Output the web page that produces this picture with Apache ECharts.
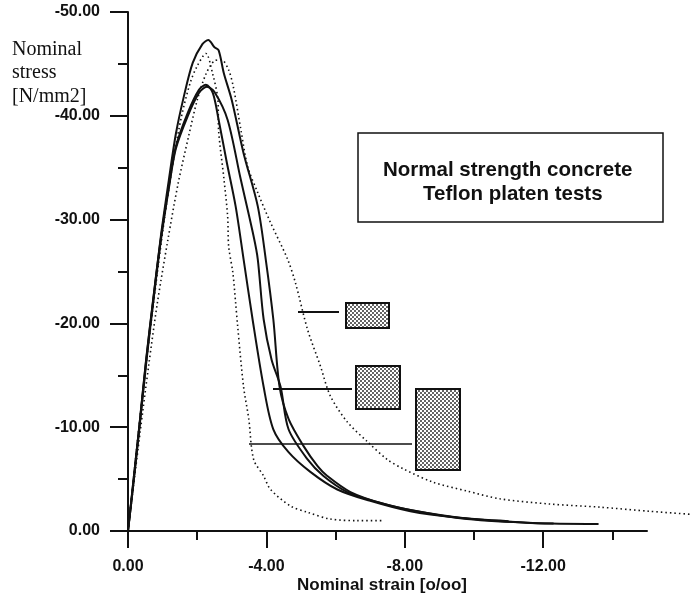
<!DOCTYPE html>
<html>
<head>
<meta charset="utf-8">
<script src="https://cdn.jsdelivr.net/npm/echarts@6/dist/echarts.min.js"></script>
<style>html,body{margin:0;padding:0;background:#fff}#c{width:696px;height:598px}</style>
</head>
<body>
<div id="c"></div>
<script>
// ---- data (strain [o/oo], stress [N/mm2]) ----
const xMajorTicks = [0, -4, -8, -12];
const xMinorTicks = [-2, -6, -10, -14];
const yTicks = [0, -10, -20, -30, -40, -50];

const solidA = [[0,0],[-0.1,-3.0],[-0.32,-9.8],[-0.52,-16.3],[-0.72,-22],[-0.95,-28.4],[-1.18,-33.8],[-1.38,-38.2],[-1.61,-41.8],[-1.87,-45.1],[-2.15,-46.9],[-2.32,-47.3],[-2.5,-46.6],[-2.62,-46.3],[-2.77,-44.1],[-3.0,-41.5],[-3.34,-36.4],[-3.75,-31.3],[-3.98,-26.2],[-4.2,-20.4],[-4.38,-13.9],[-4.64,-10.8],[-5.07,-8.2],[-5.48,-6.25],[-5.76,-5.3],[-6.43,-3.75],[-7.4,-2.6],[-8.5,-1.8],[-9.8,-1.15],[-11.7,-0.77],[-13.6,-0.67]];
const solidB = [[0,0],[-0.1,-3.1],[-0.32,-9.9],[-0.52,-16.4],[-0.72,-22.1],[-0.95,-28.2],[-1.18,-33.2],[-1.38,-37.0],[-1.73,-40.3],[-2.05,-42.5],[-2.25,-43.0],[-2.45,-42.2],[-2.62,-39.6],[-2.85,-35.6],[-3.11,-31.3],[-3.34,-26.2],[-3.6,-20.4],[-3.92,-13.9],[-4.2,-9.8],[-4.64,-7.6],[-5.27,-5.7],[-6.05,-4.0],[-7.0,-2.9],[-8.16,-1.9],[-9.5,-1.3],[-11.0,-0.95]];
const solidC = [[0,0],[-0.1,-2.9],[-0.32,-9.6],[-0.52,-16.0],[-0.72,-21.8],[-0.95,-28.0],[-1.18,-33.0],[-1.38,-36.8],[-1.73,-40.0],[-2.05,-42.2],[-2.28,-42.8],[-2.5,-42.3],[-2.88,-39.6],[-3.25,-34.0],[-3.63,-28.4],[-3.75,-26.2],[-3.92,-20.4],[-4.15,-16.5],[-4.41,-13.9],[-4.64,-9.8],[-5.19,-6.9],[-5.65,-5.3],[-6.34,-3.75],[-7.2,-2.8],[-8.2,-2.0],[-9.8,-1.2],[-11.5,-0.8],[-12.3,-0.72]];
const dottedLong = [[0,0],[-0.35,-9.5],[-0.6,-16],[-0.85,-22],[-1.15,-28],[-1.45,-33.5],[-1.75,-38],[-2.0,-41.5],[-2.25,-44.0],[-2.5,-45.3],[-2.7,-45.4],[-2.91,-44.4],[-3.05,-42.7],[-3.26,-38.7],[-3.46,-35.1],[-3.75,-32.6],[-4.12,-29.7],[-4.61,-26.2],[-4.84,-23.9],[-5.19,-19.4],[-5.56,-15.9],[-5.85,-13.0],[-6.34,-10.5],[-6.92,-8.6],[-7.49,-6.9],[-7.95,-6.0],[-8.82,-4.7],[-9.8,-3.85],[-10.75,-3.1],[-12.19,-2.6],[-13.63,-2.3],[-15.07,-1.9],[-16.3,-1.6]];
const dottedSteep = [[0,0],[-0.3,-9.5],[-0.55,-16.8],[-0.8,-23.6],[-1.05,-30.0],[-1.3,-35.5],[-1.55,-40.0],[-1.8,-43.2],[-2.0,-44.8],[-2.25,-46.0],[-2.45,-44.0],[-2.6,-41.5],[-2.62,-38.5],[-2.77,-34.0],[-2.88,-30.3],[-2.91,-27.4],[-3.03,-24.9],[-3.11,-22],[-3.17,-19.7],[-3.34,-13.9],[-3.49,-10.8],[-3.63,-6.9],[-3.92,-5.3],[-4.12,-4.0],[-4.7,-2.4],[-5.19,-1.8],[-5.85,-1.15],[-6.63,-1.0],[-7.38,-1.0]];

const yNameLines = ['Nominal', 'stress', '[N/mm2]'];
const xName = 'Nominal strain [o/oo]';
const boxLine1 = 'Normal strength concrete';
const boxLine2 = 'Teflon platen tests';

// layout
const GL = 128, GT = 12, GR = 49, GB = 67, W = 696;
const plotW = W - GL - GR;            // px spanning 0 .. -15
const xMin = -15;
const xMinWide = xMin * (W - GL) / plotW; // same scale, reaching the right edge

// stipple pattern
const pc = document.createElement('canvas');
pc.width = 4; pc.height = 4;
const pctx = pc.getContext('2d');
pctx.fillStyle = '#fff'; pctx.fillRect(0,0,4,4);
pctx.fillStyle = '#222';
pctx.beginPath(); pctx.arc(1,1,0.95,0,Math.PI*2); pctx.fill();
pctx.beginPath(); pctx.arc(3,3,0.95,0,Math.PI*2); pctx.fill();
const stipple = {image: pc, repeat: 'repeat'};

const ink = '#111';
const labelFont = 'Liberation Sans';

function solid(data){
  return {type:'line', data, showSymbol:false, smooth:0.3, lineStyle:{color:ink, width:2}, animation:false, silent:true};
}
function dotted(data, gi){
  return {type:'line', data, xAxisIndex:gi===1?2:0, yAxisIndex:gi===1?1:0, showSymbol:false, smooth:0.3, clip:false,
    lineStyle:{color:ink, width:1.6, type:[1.5,3]}, animation:false, silent:true};
}

const chart = echarts.init(document.getElementById('c'), null, {renderer:'canvas'});
const txt = (x, y, text, font, align) => ({type:'text', x, y, silent:true,
  style:{text, font, fill:ink, align: align||'left', verticalAlign:'middle', textAlign: align||'left', textVerticalAlign:'middle'}});
const rect = (x,y,w,h) => ({type:'rect', silent:true, shape:{x,y,width:w,height:h}, style:{fill:stipple, stroke:ink, lineWidth:2}});
const hline = (x1,x2,y,w) => ({type:'line', silent:true, shape:{x1,y1:y,x2,y2:y}, style:{stroke:ink, lineWidth:w}});

chart.setOption({
  animation:false,
  backgroundColor:'#fff',
  grid:[
    {left:GL, top:GT, right:GR, bottom:GB, containLabel:false},
    {left:GL, top:GT, right:0, bottom:GB, containLabel:false}
  ],
  xAxis:[{
    type:'value', inverse:true, min:xMin, max:0, gridIndex:0, position:'bottom',
    axisLine:{show:true, onZero:false, lineStyle:{color:ink, width:2}},
    axisTick:{show:true, length:17, customValues:xMajorTicks, lineStyle:{color:ink, width:2}},
    axisLabel:{show:true, customValues:xMajorTicks, margin:28, color:ink, fontFamily:labelFont, fontSize:16, fontWeight:'bold', formatter:v=>v.toFixed(2)},
    splitLine:{show:false}
  },{
    type:'value', inverse:true, min:xMin, max:0, gridIndex:0, position:'bottom',
    axisLine:{show:false},
    axisTick:{show:true, length:9, customValues:xMinorTicks, lineStyle:{color:ink, width:2}},
    axisLabel:{show:false},
    splitLine:{show:false}
  },{
    type:'value', inverse:true, min:xMinWide, max:0, gridIndex:1, show:false
  }],
  yAxis:[{
    type:'value', inverse:true, min:-50, max:0, interval:10, gridIndex:0,
    axisLine:{show:true, onZero:false, lineStyle:{color:ink, width:2}},
    axisTick:{show:true, length:18, lineStyle:{color:ink, width:2}},
    minorTick:{show:true, splitNumber:2, length:10, lineStyle:{color:ink, width:2}},
    axisLabel:{margin:28, color:ink, fontFamily:labelFont, fontSize:16, fontWeight:'bold', formatter:v=>v.toFixed(2)},
    splitLine:{show:false}, minorSplitLine:{show:false}
  },{
    type:'value', inverse:true, min:-50, max:0, gridIndex:1, show:false
  }],
  series:[
    dotted(dottedSteep, 0),
    dotted(dottedLong, 1),
    solid(solidB),
    solid(solidC),
    solid(solidA)
  ],
  graphic:[
    txt(12, 50, yNameLines[0], '20px "Liberation Serif"'),
    txt(12, 73, yNameLines[1], '20px "Liberation Serif"'),
    txt(12, 97, yNameLines[2], '20px "Liberation Serif"'),
    txt(382, 585, xName, 'bold 17px "Liberation Sans"', 'center'),
    {type:'rect', silent:true, shape:{x:358,y:133,width:305,height:89}, style:{fill:'#fff', stroke:ink, lineWidth:1.5}},
    txt(383, 170, boxLine1, 'bold 20.5px "Liberation Sans"'),
    txt(423, 194, boxLine2, 'bold 20.5px "Liberation Sans"'),
    hline(298, 339, 312, 2),
    hline(273, 352, 389, 2),
    hline(249, 412, 444, 1.5),
    rect(346, 303, 43, 25),
    rect(356, 366, 44, 43),
    rect(416, 389, 44, 81)
  ]
});
</script>
</body>
</html>
